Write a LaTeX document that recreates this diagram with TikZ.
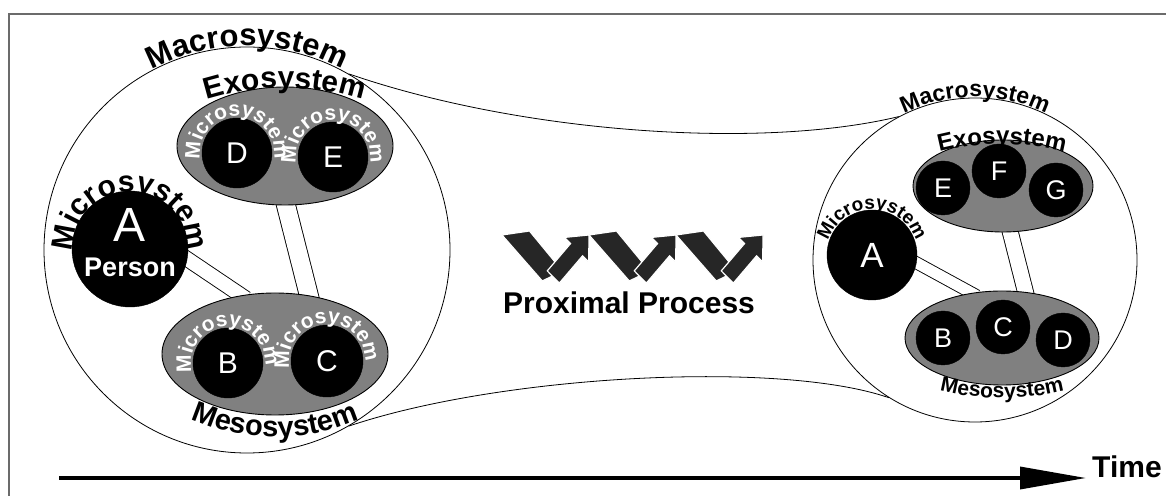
\documentclass[tikz,border=0pt]{standalone}
\usepackage{fontspec}
\setmainfont{Liberation Sans}
\usetikzlibrary{shapes.geometric,decorations.text,arrows.meta,backgrounds}
\definecolor{ellgray}{gray}{0.5}
\definecolor{framegray}{gray}{0.42}
\begin{document}
\begin{tikzpicture}[x=1pt,y=1pt,
  sys/.style={circle,draw=black,line width=0.8pt,inner sep=0},
  blk/.style={circle,fill=black,draw=black,inner sep=0,text=white},
  ell/.style={ellipse,fill=ellgray,draw=black,line width=0.9pt,inner sep=0},
  link/.style={draw=black,double=white,line width=0.9pt,shorten <=-6pt,shorten >=-6pt},
  arctext/.style={decorate,decoration={text along path,text align=center,text={#1}}},
  chain/.style={fill=black!85,draw=white,line width=1.2pt,line join=miter},
]
\useasboundingbox (0,0) rectangle (1166,495);
% systems (left)
\node[sys,minimum size=406pt] (macL) at (247,245) {};
\node[ell,minimum width=216pt,minimum height=118pt] (exoL) at (285,349) {};
\node[ell,minimum width=226pt,minimum height=122pt] (mesL) at (275,141) {};
\node[blk,minimum size=70pt,font=\fontsize{30}{30}\selectfont] (dL) at (237,342) {D};
\node[blk,minimum size=70pt,font=\fontsize{30}{30}\selectfont] (eL) at (333,338) {E};
\node[blk,minimum size=70pt,font=\fontsize{30}{30}\selectfont] (bL) at (228,132) {B};
\node[blk,minimum size=72pt,font=\fontsize{30}{30}\selectfont] (cL) at (327,134) {C};
\node[blk,minimum size=116pt] (aL) at (130,246) {};
\node[text=white,inner sep=0,font=\fontsize{48}{48}\selectfont] (aLt) at (130,270) {A};
\node[text=white,inner sep=0,font=\bfseries\fontsize{27}{27}\selectfont] (person) at (130,228) {Person};
% systems (right)
\node[sys,minimum size=324pt] (macR) at (975,235) {};
\node[ell,minimum width=180pt,minimum height=92pt] (exoR) at (1003,309) {};
\node[ell,minimum width=194pt,minimum height=94pt] (mesR) at (1002,157) {};
\node[blk,minimum size=54pt,font=\fontsize{27}{27}\selectfont] (eR) at (943,307) {E};
\node[blk,minimum size=54pt,font=\fontsize{27}{27}\selectfont] (fR) at (999,324) {F};
\node[blk,minimum size=54pt,font=\fontsize{27}{27}\selectfont] (gR) at (1056,305) {G};
\node[blk,minimum size=54pt,font=\fontsize{27}{27}\selectfont] (bR) at (943,157) {B};
\node[blk,minimum size=54pt,font=\fontsize{27}{27}\selectfont] (cR) at (1003,168) {C};
\node[blk,minimum size=54pt,font=\fontsize{27}{27}\selectfont] (dR) at (1063,155) {D};
\node[blk,minimum size=90pt,font=\fontsize{35}{35}\selectfont] (aR) at (872,240) {A};
% tube between the two macrosystems
\draw[line width=0.8pt] (macL.60.8) .. controls (520,362) and (760,345) .. (macR.118);
\draw[line width=0.8pt] (macL.-60.8) .. controls (500,120) and (780,135) .. (macR.-122.5);
% background + links
\begin{scope}[on background layer]
  \fill[white] (0,0) rectangle (1166,495);
  \draw[link,double distance=14pt] (aL.-10) -- (mesL.120);
  \draw[link,double distance=18pt] (exoL.-89) -- (mesL.60.5);
  \draw[link,double distance=11pt] (aR.-10) -- (mesR.124);
  \draw[link,double distance=15pt] (exoR.-81) -- (mesR.63.4);
\end{scope}
% frame
\draw[framegray,line width=2.5pt] (9,-5) -- (9,481) -- (1175,481);
% curved labels (left)
\path[arctext={|\bfseries\fontsize{31}{31}\selectfont|Macrosystem},shift={(247,245)}] (150:204) arc[start angle=150,end angle=30,radius=204];
\path[arctext={|\bfseries\fontsize{30}{30}\selectfont|Exosystem},shift={(285,147)}] (115:260) arc[start angle=115,end angle=65,radius=260];
\path[arctext={|\bfseries\fontsize{29}{29}\selectfont|Mesosystem},shift={(275,267)}] (235:209) arc[start angle=235,end angle=305,radius=209];
\path[arctext={|\bfseries\fontsize{30}{30}\selectfont|Microsystem},shift={(130,246)}] (200:57) arc[start angle=200,end angle=-20,radius=57];
\path[arctext={|\color{white}\bfseries\fontsize{21}{21}\selectfont|Microsystem},shift={(237,342)}] (215:37) arc[start angle=215,end angle=-35,radius=37];
\path[arctext={|\color{white}\bfseries\fontsize{21}{21}\selectfont|Microsystem},shift={(333,338)}] (215:37) arc[start angle=215,end angle=-35,radius=37];
\path[arctext={|\color{white}\bfseries\fontsize{21}{21}\selectfont|Microsystem},shift={(228,132)}] (220:37) arc[start angle=220,end angle=-30,radius=37];
\path[arctext={|\color{white}\bfseries\fontsize{21}{21}\selectfont|Microsystem},shift={(327,134)}] (220:38) arc[start angle=220,end angle=-30,radius=38];
% curved labels (right)
\path[arctext={|\bfseries\fontsize{23}{23}\selectfont|Macrosystem},shift={(975,235)}] (125:163) arc[start angle=125,end angle=55,radius=163];
\path[arctext={|\bfseries\fontsize{24}{24}\selectfont|Exosystem},shift={(1002,101)}] (110:250) arc[start angle=110,end angle=70,radius=250];
\path[arctext={|\bfseries\fontsize{21}{21}\selectfont|Mesosystem},shift={(1002,357)}] (250:260) arc[start angle=250,end angle=290,radius=260];
\path[arctext={|\bfseries\fontsize{19}{19}\selectfont|Microsystem},shift={(872,240)}] (200:46) arc[start angle=200,end angle=-20,radius=46];
% proximal process
\foreach \x in {502,589,676}{
  \begin{scope}[shift={(\x,214)},xscale=0.916]
    \filldraw[chain] (0,46) -- (30,50) -- (66,10) -- (44,0) -- cycle;
    \filldraw[chain] (49.4,10.1) -- (74.8,37.4) -- (68.2,43.6) -- (95,46) -- (94.6,19.0) -- (88.0,25.2) -- (62.6,-2.1) -- cycle;
  \end{scope}}
\node[anchor=base,inner sep=0,font=\bfseries\fontsize{30}{30}\selectfont] (pp) at (629,181) {Proximal Process};
% time axis
\coordinate (t0) at (59,17);
\coordinate (t1) at (1086,17);
\draw[line width=3.5pt,-{Triangle[length=66pt,width=22pt]}] (t0) -- (t1);
\node[anchor=base west,inner sep=0,font=\bfseries\fontsize{30}{30}\selectfont] (time) at (1092,18) {Time};
\end{tikzpicture}
\end{document}
